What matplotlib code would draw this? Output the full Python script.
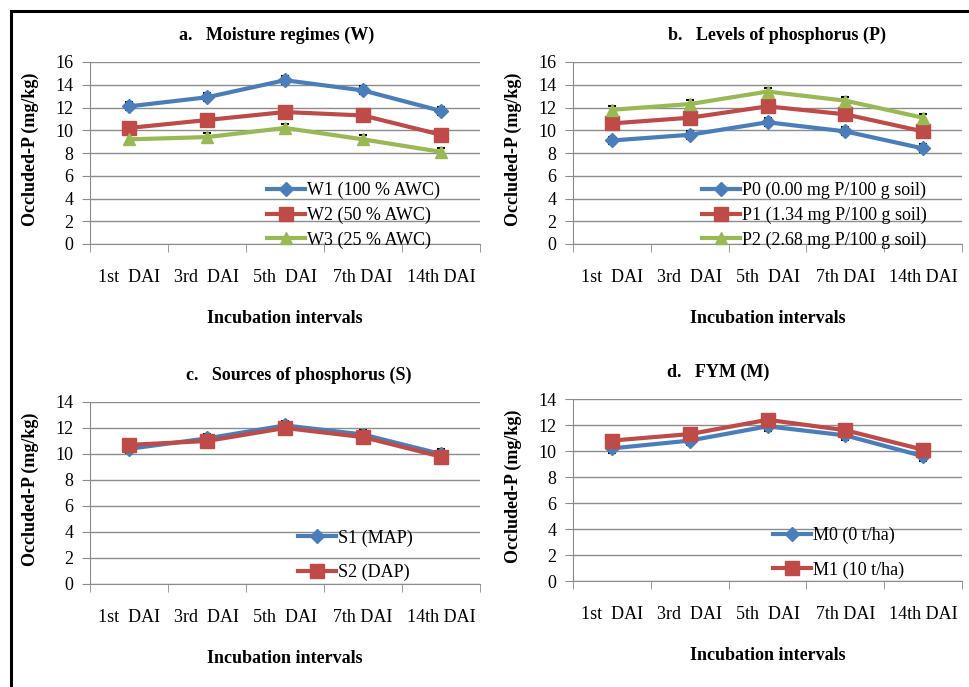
import matplotlib
matplotlib.use("Agg")
import matplotlib.pyplot as plt
from matplotlib.lines import Line2D

plt.rcParams["font.family"] = ["Liberation Serif", "DejaVu Serif"]

# data
intervals = ["1st  DAI", "3rd  DAI", "5th  DAI", "7th DAI", "14th DAI"]

w1 = [12.1, 12.9, 14.4, 13.5, 11.7]
w2 = [10.2, 10.9, 11.6, 11.3, 9.6]
w3 = [9.2, 9.4, 10.2, 9.2, 8.1]

p0 = [9.1, 9.6, 10.7, 9.9, 8.4]
p1 = [10.6, 11.1, 12.1, 11.4, 9.9]
p2 = [11.8, 12.3, 13.4, 12.6, 11.1]

s1 = [10.4, 11.2, 12.2, 11.5, 10.0]
s2 = [10.7, 11.0, 12.0, 11.3, 9.8]

m0 = [10.2, 10.8, 11.9, 11.2, 9.6]
m1 = [10.8, 11.3, 12.4, 11.6, 10.1]

err = 0.35

BLUE = "#4a7ebb"
RED = "#be4b48"
GREEN = "#98b954"
GRID = "#8c8c8c"

fig = plt.figure(figsize=(9.69, 6.87), dpi=100)

# frame lines (top and left)
fig.add_artist(Line2D([11 / 969, 1.0], [1 - 11 / 687] * 2, color="black", lw=2.2))
fig.add_artist(Line2D([11 / 969] * 2, [0, 1 - 11 / 687], color="black", lw=2.2))


def px(l, t, r, b):
    return [l / 969, 1 - b / 687, (r - l) / 969, (b - t) / 687]


def panel(rect, series, ymax, title, title_xy, leg_xy, spacing):
    ax = fig.add_axes(rect)
    x = list(range(len(intervals)))
    for vals, color, mk, ms, lab in series:
        ax.errorbar(x, vals, yerr=err, fmt="none", ecolor="black",
                    elinewidth=1, capsize=3, capthick=1.5, zorder=2)
        ax.plot(x, vals, color=color, lw=3, marker=mk, ms=ms,
                label=lab, zorder=3)
    ax.set_xlim(-0.5, 4.5)
    ax.set_ylim(0, ymax)
    ax.set_yticks(range(0, ymax + 1, 2))
    ax.grid(axis="y", color=GRID, lw=1)
    ax.set_axisbelow(True)
    for s in ["top", "right"]:
        ax.spines[s].set_visible(False)
    ax.spines["left"].set_color(GRID)
    ax.spines["bottom"].set_color(GRID)
    ax.set_xticks(x)
    ax.set_xticklabels(intervals)
    ax.set_xticks([i - 0.5 for i in range(6)], minor=True)
    ax.tick_params(axis="x", which="major", length=0, pad=18, labelsize=13)
    ax.tick_params(axis="x", which="minor", length=6, color=GRID)
    ax.tick_params(axis="y", length=6, color=GRID, pad=6, labelsize=13)
    ax.set_xlabel("Incubation intervals", fontsize=13, fontweight="bold")
    ax.xaxis.set_label_coords(0.5, -0.36)
    ax.set_ylabel("Occluded-P (mg/kg)", fontsize=13, fontweight="bold")
    ax.yaxis.set_label_coords(-0.13, 0.52)
    fig.text(title_xy[0] / 969, 1 - title_xy[1] / 687, title, ha="center",
             va="center", fontsize=13, fontweight="bold")
    ax.legend(loc="upper left", bbox_to_anchor=leg_xy, frameon=False,
              fontsize=13, borderpad=0, borderaxespad=0, handlelength=2.1,
              handletextpad=0.1, labelspacing=spacing)
    return ax


panel(px(90, 62, 480, 244),
      [(w1, BLUE, "D", 7, "W1 (100 % AWC)"),
       (w2, RED, "s", 9.5, "W2 (50 % AWC)"),
       (w3, GREEN, "^", 9, "W3 (25 % AWC)")],
      16, "a.   Moisture regimes (W)", (277, 35), (0.454, 0.34), 0.4)

panel(px(573, 62, 962, 244),
      [(p0, BLUE, "D", 7, "P0 (0.00 mg P/100 g soil)"),
       (p1, RED, "s", 9.5, "P1 (1.34 mg P/100 g soil)"),
       (p2, GREEN, "^", 9, "P2 (2.68 mg P/100 g soil)")],
      16, "b.   Levels of phosphorus (P)", (777, 35), (0.332, 0.34), 0.4)

panel(px(90, 402, 480, 584),
      [(s1, BLUE, "D", 7, "S1 (MAP)"),
       (s2, RED, "s", 9.5, "S2 (DAP)")],
      14, "c.   Sources of phosphorus (S)", (299, 375), (0.533, 0.30), 0.95)

panel(px(573, 399, 962, 581),
      [(m0, BLUE, "D", 7, "M0 (0 t/ha)"),
       (m1, RED, "s", 9.5, "M1 (10 t/ha)")],
      14, "d.   FYM (M)", (718, 372), (0.514, 0.297), 0.95)

fig.savefig("out.png", dpi=100)
